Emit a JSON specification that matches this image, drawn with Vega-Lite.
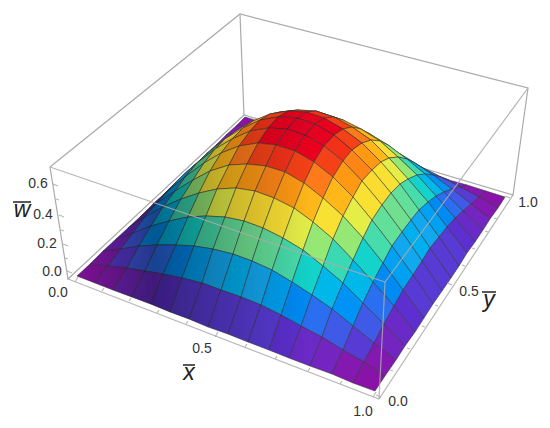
{"$schema":"https://vega.github.io/schema/vega-lite/v6.json","width":550,"height":428,"padding":0,"autosize":"none","background":"white","config":{"view":{"stroke":null}},
"projection":{"type":"identity","scale":1,"translate":[0,0]},
"datasets":{
"back":[{"g":{"type":"LineString","coordinates":[[50,167],[240,14],[528,88],[513,195],[244,115],[68,279],[50,167]]}},{"g":{"type":"LineString","coordinates":[[240,14],[244,115]]}}],
"front":[{"g":{"type":"LineString","coordinates":[[50,167],[385,282],[528,88]]}},{"g":{"type":"LineString","coordinates":[[385,282],[379,399]]}},{"g":{"type":"LineString","coordinates":[[68,279],[379,399],[513,195]]}},
{"g":{"type":"LineString","coordinates":[[75,282],[78,277]]}},{"g":{"type":"LineString","coordinates":[[102,291],[104,288]]}},{"g":{"type":"LineString","coordinates":[[129,301],[131,298]]}},{"g":{"type":"LineString","coordinates":[[157,313],[159,310]]}},{"g":{"type":"LineString","coordinates":[[186,324],[188,321]]}},{"g":{"type":"LineString","coordinates":[[215,337],[218,332]]}},{"g":{"type":"LineString","coordinates":[[245,347],[247,344]]}},{"g":{"type":"LineString","coordinates":[[275,359],[277,356]]}},{"g":{"type":"LineString","coordinates":[[308,371],[310,368]]}},{"g":{"type":"LineString","coordinates":[[340,384],[342,381]]}},{"g":{"type":"LineString","coordinates":[[373,397],[376,392]]}},
{"g":{"type":"LineString","coordinates":[[381,397],[376,395]]}},{"g":{"type":"LineString","coordinates":[[393,371],[390,370]]}},{"g":{"type":"LineString","coordinates":[[410,349],[407,348]]}},{"g":{"type":"LineString","coordinates":[[425,327],[422,326]]}},{"g":{"type":"LineString","coordinates":[[438,306],[435,305]]}},{"g":{"type":"LineString","coordinates":[[452,285],[447,283]]}},{"g":{"type":"LineString","coordinates":[[465,266],[462,265]]}},{"g":{"type":"LineString","coordinates":[[475,249],[472,248]]}},{"g":{"type":"LineString","coordinates":[[488,232],[485,231]]}},{"g":{"type":"LineString","coordinates":[[497,219],[494,218]]}},{"g":{"type":"LineString","coordinates":[[510,198],[505,196]]}},
{"g":{"type":"LineString","coordinates":[[67,271],[72,273]]}},{"g":{"type":"LineString","coordinates":[[65,258],[68,259]]}},{"g":{"type":"LineString","coordinates":[[63,244],[68,246]]}},{"g":{"type":"LineString","coordinates":[[61,230],[64,231]]}},{"g":{"type":"LineString","coordinates":[[59,215],[64,217]]}},{"g":{"type":"LineString","coordinates":[[56,199],[59,200]]}},{"g":{"type":"LineString","coordinates":[[53,184],[58,186]]}}],
"bars":[{"g":{"type":"LineString","coordinates":[[13,202],[31,202]]}},{"g":{"type":"LineString","coordinates":[[183,365],[195,365]]}},{"g":{"type":"LineString","coordinates":[[482,292],[496,292]]}}],
"shade":[{"g":{"type":"Polygon","coordinates":[[[77,276],[375,391],[505,197],[460,187],[441,177],[423,168],[407,159],[388,145],[371,140],[352,127],[334,117],[316,111],[298,110],[280,112],[263,118],[246,127],[229,138],[219,144],[196,164],[163,195],[128,228],[77,276]]]}}],
"ticks":[{"t":"0.6","x":38,"y":184},{"t":"0.4","x":43,"y":215},{"t":"0.2","x":47,"y":244},{"t":"0.0","x":52,"y":272},{"t":"0.0","x":58,"y":293},{"t":"0.5","x":202,"y":349},{"t":"1.0","x":363,"y":412},{"t":"0.0","x":398,"y":402},{"t":"0.5","x":469,"y":292},{"t":"1.0","x":528,"y":203}],
"names":[{"t":"w","x":22,"y":217},{"t":"x","x":189,"y":380},{"t":"y","x":489,"y":307}],
"cells":[
{"w":0.01,"g":{"type":"Polygon","coordinates":[[[236,126],[252,127],[261,122],[245,117],[236,126]]]}},
{"w":0.02,"g":{"type":"Polygon","coordinates":[[[252,127],[268,127],[277,127],[261,122],[252,127]]]}},
{"w":0.04,"g":{"type":"Polygon","coordinates":[[[268,127],[284,129],[293,132],[277,127],[268,127]]]}},
{"w":0.05,"g":{"type":"Polygon","coordinates":[[[284,129],[301,130],[309,137],[293,132],[284,129]]]}},
{"w":0.06,"g":{"type":"Polygon","coordinates":[[[301,130],[317,133],[326,142],[309,137],[301,130]]]}},
{"w":0.07,"g":{"type":"Polygon","coordinates":[[[317,133],[334,136],[343,147],[326,142],[317,133]]]}},
{"w":0.07,"g":{"type":"Polygon","coordinates":[[[334,136],[352,141],[360,152],[343,147],[334,136]]]}},
{"w":0.07,"g":{"type":"Polygon","coordinates":[[[352,141],[369,146],[377,158],[360,152],[352,141]]]}},
{"w":0.07,"g":{"type":"Polygon","coordinates":[[[369,146],[387,152],[395,163],[377,158],[369,146]]]}},
{"w":0.07,"g":{"type":"Polygon","coordinates":[[[387,152],[405,160],[413,169],[395,163],[387,152]]]}},
{"w":0.06,"g":{"type":"Polygon","coordinates":[[[405,160],[423,168],[431,174],[413,169],[405,160]]]}},
{"w":0.05,"g":{"type":"Polygon","coordinates":[[[423,168],[441,177],[449,180],[431,174],[423,168]]]}},
{"w":0.04,"g":{"type":"Polygon","coordinates":[[[441,177],[460,187],[467,185],[449,180],[441,177]]]}},
{"w":0.02,"g":{"type":"Polygon","coordinates":[[[460,187],[479,197],[486,191],[467,185],[460,187]]]}},
{"w":0.01,"g":{"type":"Polygon","coordinates":[[[479,197],[498,208],[505,197],[486,191],[479,197]]]}},
{"w":0.02,"g":{"type":"Polygon","coordinates":[[[226,135],[242,132],[252,127],[236,126],[226,135]]]}},
{"w":0.07,"g":{"type":"Polygon","coordinates":[[[242,132],[258,128],[268,127],[252,127],[242,132]]]}},
{"w":0.11,"g":{"type":"Polygon","coordinates":[[[258,128],[275,126],[284,129],[268,127],[258,128]]]}},
{"w":0.14,"g":{"type":"Polygon","coordinates":[[[275,126],[291,124],[301,130],[284,129],[275,126]]]}},
{"w":0.17,"g":{"type":"Polygon","coordinates":[[[291,124],[308,125],[317,133],[301,130],[291,124]]]}},
{"w":0.20,"g":{"type":"Polygon","coordinates":[[[308,125],[326,126],[334,136],[317,133],[308,125]]]}},
{"w":0.21,"g":{"type":"Polygon","coordinates":[[[326,126],[343,130],[352,141],[334,136],[326,126]]]}},
{"w":0.22,"g":{"type":"Polygon","coordinates":[[[343,130],[361,135],[369,146],[352,141],[343,130]]]}},
{"w":0.21,"g":{"type":"Polygon","coordinates":[[[361,135],[379,142],[387,152],[369,146],[361,135]]]}},
{"w":0.20,"g":{"type":"Polygon","coordinates":[[[379,142],[397,152],[405,160],[387,152],[379,142]]]}},
{"w":0.17,"g":{"type":"Polygon","coordinates":[[[397,152],[415,163],[423,168],[405,160],[397,152]]]}},
{"w":0.14,"g":{"type":"Polygon","coordinates":[[[415,163],[433,175],[441,177],[423,168],[415,163]]]}},
{"w":0.11,"g":{"type":"Polygon","coordinates":[[[433,175],[452,189],[460,187],[441,177],[433,175]]]}},
{"w":0.07,"g":{"type":"Polygon","coordinates":[[[452,189],[471,204],[479,197],[460,187],[452,189]]]}},
{"w":0.02,"g":{"type":"Polygon","coordinates":[[[471,204],[490,219],[498,208],[479,197],[471,204]]]}},
{"w":0.04,"g":{"type":"Polygon","coordinates":[[[216,145],[232,137],[242,132],[226,135],[216,145]]]}},
{"w":0.11,"g":{"type":"Polygon","coordinates":[[[232,137],[249,130],[258,128],[242,132],[232,137]]]}},
{"w":0.18,"g":{"type":"Polygon","coordinates":[[[249,130],[265,124],[275,126],[258,128],[249,130]]]}},
{"w":0.23,"g":{"type":"Polygon","coordinates":[[[265,124],[282,120],[291,124],[275,126],[265,124]]]}},
{"w":0.28,"g":{"type":"Polygon","coordinates":[[[282,120],[299,118],[308,125],[291,124],[282,120]]]}},
{"w":0.32,"g":{"type":"Polygon","coordinates":[[[299,118],[317,118],[326,126],[308,125],[299,118]]]}},
{"w":0.34,"g":{"type":"Polygon","coordinates":[[[317,118],[334,120],[343,130],[326,126],[317,118]]]}},
{"w":0.35,"g":{"type":"Polygon","coordinates":[[[334,120],[352,126],[361,135],[343,130],[334,120]]]}},
{"w":0.34,"g":{"type":"Polygon","coordinates":[[[352,126],[370,134],[379,142],[361,135],[352,126]]]}},
{"w":0.32,"g":{"type":"Polygon","coordinates":[[[370,134],[388,145],[397,152],[379,142],[370,134]]]}},
{"w":0.28,"g":{"type":"Polygon","coordinates":[[[388,145],[407,159],[415,163],[397,152],[388,145]]]}},
{"w":0.23,"g":{"type":"Polygon","coordinates":[[[407,159],[425,174],[433,175],[415,163],[407,159]]]}},
{"w":0.18,"g":{"type":"Polygon","coordinates":[[[425,174],[444,192],[452,189],[433,175],[425,174]]]}},
{"w":0.11,"g":{"type":"Polygon","coordinates":[[[444,192],[463,211],[471,204],[452,189],[444,192]]]}},
{"w":0.04,"g":{"type":"Polygon","coordinates":[[[463,211],[483,230],[490,219],[471,204],[463,211]]]}},
{"w":0.05,"g":{"type":"Polygon","coordinates":[[[206,154],[222,143],[232,137],[216,145],[206,154]]]}},
{"w":0.14,"g":{"type":"Polygon","coordinates":[[[222,143],[239,133],[249,130],[232,137],[222,143]]]}},
{"w":0.23,"g":{"type":"Polygon","coordinates":[[[239,133],[256,124],[265,124],[249,130],[239,133]]]}},
{"w":0.31,"g":{"type":"Polygon","coordinates":[[[256,124],[273,118],[282,120],[265,124],[256,124]]]}},
{"w":0.38,"g":{"type":"Polygon","coordinates":[[[273,118],[290,113],[299,118],[282,120],[273,118]]]}},
{"w":0.43,"g":{"type":"Polygon","coordinates":[[[290,113],[307,112],[317,118],[299,118],[290,113]]]}},
{"w":0.46,"g":{"type":"Polygon","coordinates":[[[307,112],[325,114],[334,120],[317,118],[307,112]]]}},
{"w":0.47,"g":{"type":"Polygon","coordinates":[[[325,114],[343,120],[352,126],[334,120],[325,114]]]}},
{"w":0.46,"g":{"type":"Polygon","coordinates":[[[343,120],[361,129],[370,134],[352,126],[343,120]]]}},
{"w":0.43,"g":{"type":"Polygon","coordinates":[[[361,129],[380,141],[388,145],[370,134],[361,129]]]}},
{"w":0.38,"g":{"type":"Polygon","coordinates":[[[380,141],[398,157],[407,159],[388,145],[380,141]]]}},
{"w":0.31,"g":{"type":"Polygon","coordinates":[[[398,157],[417,175],[425,174],[407,159],[398,157]]]}},
{"w":0.23,"g":{"type":"Polygon","coordinates":[[[417,175],[436,196],[444,192],[425,174],[417,175]]]}},
{"w":0.14,"g":{"type":"Polygon","coordinates":[[[436,196],[455,218],[463,211],[444,192],[436,196]]]}},
{"w":0.05,"g":{"type":"Polygon","coordinates":[[[455,218],[475,242],[483,230],[463,211],[455,218]]]}},
{"w":0.06,"g":{"type":"Polygon","coordinates":[[[196,164],[212,151],[222,143],[206,154],[196,164]]]}},
{"w":0.17,"g":{"type":"Polygon","coordinates":[[[212,151],[229,138],[239,133],[222,143],[212,151]]]}},
{"w":0.28,"g":{"type":"Polygon","coordinates":[[[229,138],[246,127],[256,124],[239,133],[229,138]]]}},
{"w":0.38,"g":{"type":"Polygon","coordinates":[[[246,127],[263,118],[273,118],[256,124],[246,127]]]}},
{"w":0.46,"g":{"type":"Polygon","coordinates":[[[263,118],[280,112],[290,113],[273,118],[263,118]]]}},
{"w":0.52,"g":{"type":"Polygon","coordinates":[[[280,112],[298,110],[307,112],[290,113],[280,112]]]}},
{"w":0.55,"g":{"type":"Polygon","coordinates":[[[298,110],[316,111],[325,114],[307,112],[298,110]]]}},
{"w":0.57,"g":{"type":"Polygon","coordinates":[[[316,111],[334,117],[343,120],[325,114],[316,111]]]}},
{"w":0.55,"g":{"type":"Polygon","coordinates":[[[334,117],[352,127],[361,129],[343,120],[334,117]]]}},
{"w":0.52,"g":{"type":"Polygon","coordinates":[[[352,127],[371,140],[380,141],[361,129],[352,127]]]}},
{"w":0.46,"g":{"type":"Polygon","coordinates":[[[371,140],[389,158],[398,157],[380,141],[371,140]]]}},
{"w":0.38,"g":{"type":"Polygon","coordinates":[[[389,158],[408,179],[417,175],[398,157],[389,158]]]}},
{"w":0.28,"g":{"type":"Polygon","coordinates":[[[408,179],[428,202],[436,196],[417,175],[408,179]]]}},
{"w":0.17,"g":{"type":"Polygon","coordinates":[[[428,202],[447,227],[455,218],[436,196],[428,202]]]}},
{"w":0.06,"g":{"type":"Polygon","coordinates":[[[447,227],[467,253],[475,242],[455,218],[447,227]]]}},
{"w":0.07,"g":{"type":"Polygon","coordinates":[[[185,174],[202,159],[212,151],[196,164],[185,174]]]}},
{"w":0.20,"g":{"type":"Polygon","coordinates":[[[202,159],[219,144],[229,138],[212,151],[202,159]]]}},
{"w":0.32,"g":{"type":"Polygon","coordinates":[[[219,144],[236,131],[246,127],[229,138],[219,144]]]}},
{"w":0.43,"g":{"type":"Polygon","coordinates":[[[236,131],[253,121],[263,118],[246,127],[236,131]]]}},
{"w":0.52,"g":{"type":"Polygon","coordinates":[[[253,121],[270,114],[280,112],[263,118],[253,121]]]}},
{"w":0.58,"g":{"type":"Polygon","coordinates":[[[270,114],[288,111],[298,110],[280,112],[270,114]]]}},
{"w":0.63,"g":{"type":"Polygon","coordinates":[[[288,111],[306,112],[316,111],[298,110],[288,111]]]}},
{"w":0.64,"g":{"type":"Polygon","coordinates":[[[306,112],[324,118],[334,117],[316,111],[306,112]]]}},
{"w":0.63,"g":{"type":"Polygon","coordinates":[[[324,118],[343,129],[352,127],[334,117],[324,118]]]}},
{"w":0.58,"g":{"type":"Polygon","coordinates":[[[343,129],[362,143],[371,140],[352,127],[343,129]]]}},
{"w":0.52,"g":{"type":"Polygon","coordinates":[[[362,143],[381,162],[389,158],[371,140],[362,143]]]}},
{"w":0.43,"g":{"type":"Polygon","coordinates":[[[381,162],[400,184],[408,179],[389,158],[381,162]]]}},
{"w":0.32,"g":{"type":"Polygon","coordinates":[[[400,184],[419,210],[428,202],[408,179],[400,184]]]}},
{"w":0.20,"g":{"type":"Polygon","coordinates":[[[419,210],[439,237],[447,227],[428,202],[419,210]]]}},
{"w":0.07,"g":{"type":"Polygon","coordinates":[[[439,237],[459,266],[467,253],[447,227],[439,237]]]}},
{"w":0.07,"g":{"type":"Polygon","coordinates":[[[174,184],[191,168],[202,159],[185,174],[174,184]]]}},
{"w":0.21,"g":{"type":"Polygon","coordinates":[[[191,168],[208,153],[219,144],[202,159],[191,168]]]}},
{"w":0.34,"g":{"type":"Polygon","coordinates":[[[208,153],[225,139],[236,131],[219,144],[208,153]]]}},
{"w":0.46,"g":{"type":"Polygon","coordinates":[[[225,139],[243,128],[253,121],[236,131],[225,139]]]}},
{"w":0.55,"g":{"type":"Polygon","coordinates":[[[243,128],[260,120],[270,114],[253,121],[243,128]]]}},
{"w":0.63,"g":{"type":"Polygon","coordinates":[[[260,120],[278,117],[288,111],[270,114],[260,120]]]}},
{"w":0.67,"g":{"type":"Polygon","coordinates":[[[278,117],[297,118],[306,112],[288,111],[278,117]]]}},
{"w":0.68,"g":{"type":"Polygon","coordinates":[[[297,118],[315,124],[324,118],[306,112],[297,118]]]}},
{"w":0.67,"g":{"type":"Polygon","coordinates":[[[315,124],[334,135],[343,129],[324,118],[315,124]]]}},
{"w":0.63,"g":{"type":"Polygon","coordinates":[[[334,135],[352,150],[362,143],[343,129],[334,135]]]}},
{"w":0.55,"g":{"type":"Polygon","coordinates":[[[352,150],[372,170],[381,162],[362,143],[352,150]]]}},
{"w":0.46,"g":{"type":"Polygon","coordinates":[[[372,170],[391,193],[400,184],[381,162],[372,170]]]}},
{"w":0.34,"g":{"type":"Polygon","coordinates":[[[391,193],[411,220],[419,210],[400,184],[391,193]]]}},
{"w":0.21,"g":{"type":"Polygon","coordinates":[[[411,220],[430,248],[439,237],[419,210],[411,220]]]}},
{"w":0.07,"g":{"type":"Polygon","coordinates":[[[430,248],[451,278],[459,266],[439,237],[430,248]]]}},
{"w":0.07,"g":{"type":"Polygon","coordinates":[[[163,195],[180,178],[191,168],[174,184],[163,195]]]}},
{"w":0.22,"g":{"type":"Polygon","coordinates":[[[180,178],[197,163],[208,153],[191,168],[180,178]]]}},
{"w":0.35,"g":{"type":"Polygon","coordinates":[[[197,163],[215,149],[225,139],[208,153],[197,163]]]}},
{"w":0.47,"g":{"type":"Polygon","coordinates":[[[215,149],[232,139],[243,128],[225,139],[215,149]]]}},
{"w":0.57,"g":{"type":"Polygon","coordinates":[[[232,139],[250,131],[260,120],[243,128],[232,139]]]}},
{"w":0.64,"g":{"type":"Polygon","coordinates":[[[250,131],[268,128],[278,117],[260,120],[250,131]]]}},
{"w":0.68,"g":{"type":"Polygon","coordinates":[[[268,128],[287,129],[297,118],[278,117],[268,128]]]}},
{"w":0.70,"g":{"type":"Polygon","coordinates":[[[287,129],[305,135],[315,124],[297,118],[287,129]]]}},
{"w":0.68,"g":{"type":"Polygon","coordinates":[[[305,135],[324,146],[334,135],[315,124],[305,135]]]}},
{"w":0.64,"g":{"type":"Polygon","coordinates":[[[324,146],[343,161],[352,150],[334,135],[324,146]]]}},
{"w":0.57,"g":{"type":"Polygon","coordinates":[[[343,161],[362,181],[372,170],[352,150],[343,161]]]}},
{"w":0.47,"g":{"type":"Polygon","coordinates":[[[362,181],[382,205],[391,193],[372,170],[362,181]]]}},
{"w":0.35,"g":{"type":"Polygon","coordinates":[[[382,205],[402,232],[411,220],[391,193],[382,205]]]}},
{"w":0.22,"g":{"type":"Polygon","coordinates":[[[402,232],[422,261],[430,248],[411,220],[402,232]]]}},
{"w":0.07,"g":{"type":"Polygon","coordinates":[[[422,261],[442,291],[451,278],[430,248],[422,261]]]}},
{"w":0.07,"g":{"type":"Polygon","coordinates":[[[152,205],[169,190],[180,178],[163,195],[152,205]]]}},
{"w":0.21,"g":{"type":"Polygon","coordinates":[[[169,190],[186,176],[197,163],[180,178],[169,190]]]}},
{"w":0.34,"g":{"type":"Polygon","coordinates":[[[186,176],[204,163],[215,149],[197,163],[186,176]]]}},
{"w":0.46,"g":{"type":"Polygon","coordinates":[[[204,163],[221,153],[232,139],[215,149],[204,163]]]}},
{"w":0.55,"g":{"type":"Polygon","coordinates":[[[221,153],[239,146],[250,131],[232,139],[221,153]]]}},
{"w":0.63,"g":{"type":"Polygon","coordinates":[[[239,146],[258,143],[268,128],[250,131],[239,146]]]}},
{"w":0.67,"g":{"type":"Polygon","coordinates":[[[258,143],[276,145],[287,129],[268,128],[258,143]]]}},
{"w":0.68,"g":{"type":"Polygon","coordinates":[[[276,145],[295,151],[305,135],[287,129],[276,145]]]}},
{"w":0.67,"g":{"type":"Polygon","coordinates":[[[295,151],[314,162],[324,146],[305,135],[295,151]]]}},
{"w":0.63,"g":{"type":"Polygon","coordinates":[[[314,162],[333,177],[343,161],[324,146],[314,162]]]}},
{"w":0.55,"g":{"type":"Polygon","coordinates":[[[333,177],[353,197],[362,181],[343,161],[333,177]]]}},
{"w":0.46,"g":{"type":"Polygon","coordinates":[[[353,197],[372,220],[382,205],[362,181],[353,197]]]}},
{"w":0.34,"g":{"type":"Polygon","coordinates":[[[372,220],[392,246],[402,232],[382,205],[372,220]]]}},
{"w":0.21,"g":{"type":"Polygon","coordinates":[[[392,246],[413,275],[422,261],[402,232],[392,246]]]}},
{"w":0.07,"g":{"type":"Polygon","coordinates":[[[413,275],[433,304],[442,291],[422,261],[413,275]]]}},
{"w":0.07,"g":{"type":"Polygon","coordinates":[[[140,217],[157,203],[169,190],[152,205],[140,217]]]}},
{"w":0.20,"g":{"type":"Polygon","coordinates":[[[157,203],[175,191],[186,176],[169,190],[157,203]]]}},
{"w":0.32,"g":{"type":"Polygon","coordinates":[[[175,191],[193,180],[204,163],[186,176],[175,191]]]}},
{"w":0.43,"g":{"type":"Polygon","coordinates":[[[193,180],[210,171],[221,153],[204,163],[193,180]]]}},
{"w":0.52,"g":{"type":"Polygon","coordinates":[[[210,171],[229,165],[239,146],[221,153],[210,171]]]}},
{"w":0.58,"g":{"type":"Polygon","coordinates":[[[229,165],[247,164],[258,143],[239,146],[229,165]]]}},
{"w":0.63,"g":{"type":"Polygon","coordinates":[[[247,164],[266,166],[276,145],[258,143],[247,164]]]}},
{"w":0.64,"g":{"type":"Polygon","coordinates":[[[266,166],[285,172],[295,151],[276,145],[266,166]]]}},
{"w":0.63,"g":{"type":"Polygon","coordinates":[[[285,172],[304,183],[314,162],[295,151],[285,172]]]}},
{"w":0.58,"g":{"type":"Polygon","coordinates":[[[304,183],[323,198],[333,177],[314,162],[304,183]]]}},
{"w":0.52,"g":{"type":"Polygon","coordinates":[[[323,198],[343,216],[353,197],[333,177],[323,198]]]}},
{"w":0.43,"g":{"type":"Polygon","coordinates":[[[343,216],[363,238],[372,220],[353,197],[343,216]]]}},
{"w":0.32,"g":{"type":"Polygon","coordinates":[[[363,238],[383,263],[392,246],[372,220],[363,238]]]}},
{"w":0.20,"g":{"type":"Polygon","coordinates":[[[383,263],[403,290],[413,275],[392,246],[383,263]]]}},
{"w":0.07,"g":{"type":"Polygon","coordinates":[[[403,290],[424,318],[433,304],[413,275],[403,290]]]}},
{"w":0.06,"g":{"type":"Polygon","coordinates":[[[128,228],[145,217],[157,203],[140,217],[128,228]]]}},
{"w":0.17,"g":{"type":"Polygon","coordinates":[[[145,217],[163,207],[175,191],[157,203],[145,217]]]}},
{"w":0.28,"g":{"type":"Polygon","coordinates":[[[163,207],[181,199],[193,180],[175,191],[163,207]]]}},
{"w":0.38,"g":{"type":"Polygon","coordinates":[[[181,199],[199,193],[210,171],[193,180],[181,199]]]}},
{"w":0.46,"g":{"type":"Polygon","coordinates":[[[199,193],[217,189],[229,165],[210,171],[199,193]]]}},
{"w":0.52,"g":{"type":"Polygon","coordinates":[[[217,189],[236,188],[247,164],[229,165],[217,189]]]}},
{"w":0.55,"g":{"type":"Polygon","coordinates":[[[236,188],[255,191],[266,166],[247,164],[236,188]]]}},
{"w":0.57,"g":{"type":"Polygon","coordinates":[[[255,191],[274,198],[285,172],[266,166],[255,191]]]}},
{"w":0.55,"g":{"type":"Polygon","coordinates":[[[274,198],[294,208],[304,183],[285,172],[274,198]]]}},
{"w":0.52,"g":{"type":"Polygon","coordinates":[[[294,208],[313,222],[323,198],[304,183],[294,208]]]}},
{"w":0.46,"g":{"type":"Polygon","coordinates":[[[313,222],[333,239],[343,216],[323,198],[313,222]]]}},
{"w":0.38,"g":{"type":"Polygon","coordinates":[[[333,239],[353,260],[363,238],[343,216],[333,239]]]}},
{"w":0.28,"g":{"type":"Polygon","coordinates":[[[353,260],[373,282],[383,263],[363,238],[353,260]]]}},
{"w":0.17,"g":{"type":"Polygon","coordinates":[[[373,282],[394,306],[403,290],[383,263],[373,282]]]}},
{"w":0.06,"g":{"type":"Polygon","coordinates":[[[394,306],[415,332],[424,318],[403,290],[394,306]]]}},
{"w":0.05,"g":{"type":"Polygon","coordinates":[[[116,239],[133,233],[145,217],[128,228],[116,239]]]}},
{"w":0.14,"g":{"type":"Polygon","coordinates":[[[133,233],[151,226],[163,207],[145,217],[133,233]]]}},
{"w":0.23,"g":{"type":"Polygon","coordinates":[[[151,226],[169,221],[181,199],[163,207],[151,226]]]}},
{"w":0.31,"g":{"type":"Polygon","coordinates":[[[169,221],[188,217],[199,193],[181,199],[169,221]]]}},
{"w":0.38,"g":{"type":"Polygon","coordinates":[[[188,217],[206,216],[217,189],[199,193],[188,217]]]}},
{"w":0.43,"g":{"type":"Polygon","coordinates":[[[206,216],[225,217],[236,188],[217,189],[206,216]]]}},
{"w":0.46,"g":{"type":"Polygon","coordinates":[[[225,217],[244,221],[255,191],[236,188],[225,217]]]}},
{"w":0.47,"g":{"type":"Polygon","coordinates":[[[244,221],[263,228],[274,198],[255,191],[244,221]]]}},
{"w":0.46,"g":{"type":"Polygon","coordinates":[[[263,228],[283,238],[294,208],[274,198],[263,228]]]}},
{"w":0.43,"g":{"type":"Polygon","coordinates":[[[283,238],[303,250],[313,222],[294,208],[283,238]]]}},
{"w":0.38,"g":{"type":"Polygon","coordinates":[[[303,250],[323,266],[333,239],[313,222],[303,250]]]}},
{"w":0.31,"g":{"type":"Polygon","coordinates":[[[323,266],[343,283],[353,260],[333,239],[323,266]]]}},
{"w":0.23,"g":{"type":"Polygon","coordinates":[[[343,283],[363,303],[373,282],[353,260],[343,283]]]}},
{"w":0.14,"g":{"type":"Polygon","coordinates":[[[363,303],[384,324],[394,306],[373,282],[363,303]]]}},
{"w":0.05,"g":{"type":"Polygon","coordinates":[[[384,324],[405,346],[415,332],[394,306],[384,324]]]}},
{"w":0.04,"g":{"type":"Polygon","coordinates":[[[103,251],[121,249],[133,233],[116,239],[103,251]]]}},
{"w":0.11,"g":{"type":"Polygon","coordinates":[[[121,249],[139,246],[151,226],[133,233],[121,249]]]}},
{"w":0.18,"g":{"type":"Polygon","coordinates":[[[139,246],[157,245],[169,221],[151,226],[139,246]]]}},
{"w":0.23,"g":{"type":"Polygon","coordinates":[[[157,245],[176,245],[188,217],[169,221],[157,245]]]}},
{"w":0.28,"g":{"type":"Polygon","coordinates":[[[176,245],[194,246],[206,216],[188,217],[176,245]]]}},
{"w":0.32,"g":{"type":"Polygon","coordinates":[[[194,246],[213,249],[225,217],[206,216],[194,246]]]}},
{"w":0.34,"g":{"type":"Polygon","coordinates":[[[213,249],[233,254],[244,221],[225,217],[213,249]]]}},
{"w":0.35,"g":{"type":"Polygon","coordinates":[[[233,254],[252,261],[263,228],[244,221],[233,254]]]}},
{"w":0.34,"g":{"type":"Polygon","coordinates":[[[252,261],[272,270],[283,238],[263,228],[252,261]]]}},
{"w":0.32,"g":{"type":"Polygon","coordinates":[[[272,270],[292,282],[303,250],[283,238],[272,270]]]}},
{"w":0.28,"g":{"type":"Polygon","coordinates":[[[292,282],[312,295],[323,266],[303,250],[292,282]]]}},
{"w":0.23,"g":{"type":"Polygon","coordinates":[[[312,295],[332,309],[343,283],[323,266],[312,295]]]}},
{"w":0.18,"g":{"type":"Polygon","coordinates":[[[332,309],[353,326],[363,303],[343,283],[332,309]]]}},
{"w":0.11,"g":{"type":"Polygon","coordinates":[[[353,326],[374,343],[384,324],[363,303],[353,326]]]}},
{"w":0.04,"g":{"type":"Polygon","coordinates":[[[374,343],[396,360],[405,346],[384,324],[374,343]]]}},
{"w":0.02,"g":{"type":"Polygon","coordinates":[[[90,264],[108,266],[121,249],[103,251],[90,264]]]}},
{"w":0.07,"g":{"type":"Polygon","coordinates":[[[108,266],[127,268],[139,246],[121,249],[108,266]]]}},
{"w":0.11,"g":{"type":"Polygon","coordinates":[[[127,268],[145,271],[157,245],[139,246],[127,268]]]}},
{"w":0.14,"g":{"type":"Polygon","coordinates":[[[145,271],[163,274],[176,245],[157,245],[145,271]]]}},
{"w":0.17,"g":{"type":"Polygon","coordinates":[[[163,274],[182,278],[194,246],[176,245],[163,274]]]}},
{"w":0.20,"g":{"type":"Polygon","coordinates":[[[182,278],[202,283],[213,249],[194,246],[182,278]]]}},
{"w":0.21,"g":{"type":"Polygon","coordinates":[[[202,283],[221,290],[233,254],[213,249],[202,283]]]}},
{"w":0.22,"g":{"type":"Polygon","coordinates":[[[221,290],[241,297],[252,261],[233,254],[221,290]]]}},
{"w":0.21,"g":{"type":"Polygon","coordinates":[[[241,297],[261,305],[272,270],[252,261],[241,297]]]}},
{"w":0.20,"g":{"type":"Polygon","coordinates":[[[261,305],[281,315],[292,282],[272,270],[261,305]]]}},
{"w":0.17,"g":{"type":"Polygon","coordinates":[[[281,315],[301,326],[312,295],[292,282],[281,315]]]}},
{"w":0.14,"g":{"type":"Polygon","coordinates":[[[301,326],[322,337],[332,309],[312,295],[301,326]]]}},
{"w":0.11,"g":{"type":"Polygon","coordinates":[[[322,337],[343,350],[353,326],[332,309],[322,337]]]}},
{"w":0.07,"g":{"type":"Polygon","coordinates":[[[343,350],[364,362],[374,343],[353,326],[343,350]]]}},
{"w":0.02,"g":{"type":"Polygon","coordinates":[[[364,362],[385,376],[396,360],[374,343],[364,362]]]}},
{"w":0.01,"g":{"type":"Polygon","coordinates":[[[77,276],[95,283],[108,266],[90,264],[77,276]]]}},
{"w":0.02,"g":{"type":"Polygon","coordinates":[[[95,283],[113,290],[127,268],[108,266],[95,283]]]}},
{"w":0.04,"g":{"type":"Polygon","coordinates":[[[113,290],[132,297],[145,271],[127,268],[113,290]]]}},
{"w":0.05,"g":{"type":"Polygon","coordinates":[[[132,297],[151,304],[163,274],[145,271],[132,297]]]}},
{"w":0.06,"g":{"type":"Polygon","coordinates":[[[151,304],[170,312],[182,278],[163,274],[151,304]]]}},
{"w":0.07,"g":{"type":"Polygon","coordinates":[[[170,312],[189,319],[202,283],[182,278],[170,312]]]}},
{"w":0.07,"g":{"type":"Polygon","coordinates":[[[189,319],[208,327],[221,290],[202,283],[189,319]]]}},
{"w":0.07,"g":{"type":"Polygon","coordinates":[[[208,327],[228,334],[241,297],[221,290],[208,327]]]}},
{"w":0.07,"g":{"type":"Polygon","coordinates":[[[228,334],[248,342],[261,305],[241,297],[228,334]]]}},
{"w":0.07,"g":{"type":"Polygon","coordinates":[[[248,342],[269,350],[281,315],[261,305],[248,342]]]}},
{"w":0.06,"g":{"type":"Polygon","coordinates":[[[269,350],[289,358],[301,326],[281,315],[269,350]]]}},
{"w":0.05,"g":{"type":"Polygon","coordinates":[[[289,358],[310,366],[322,337],[301,326],[289,358]]]}},
{"w":0.04,"g":{"type":"Polygon","coordinates":[[[310,366],[332,374],[343,350],[322,337],[310,366]]]}},
{"w":0.02,"g":{"type":"Polygon","coordinates":[[[332,374],[353,383],[364,362],[343,350],[332,374]]]}},
{"w":0.01,"g":{"type":"Polygon","coordinates":[[[353,383],[375,391],[385,376],[364,362],[353,383]]]}}
]},
"layer":[
{"data":{"name":"back"},"mark":{"type":"geoshape","filled":false,"stroke":"#aaaaaa","strokeWidth":1.2},"encoding":{"shape":{"field":"g","type":"geojson"}}},
{"data":{"name":"cells"},"mark":{"type":"geoshape","stroke":"#2e2e2e","strokeWidth":0.9,"strokeOpacity":0.6},"encoding":{"shape":{"field":"g","type":"geojson"},"color":{"field":"w","type":"quantitative","legend":null,"scale":{"domain":[0,0.06,0.14,0.21,0.27,0.35,0.44,0.51,0.58,0.65],"range":["#8e0ea0","#5d2fd0","#2a6ff0","#12a8f0","#10d0d0","#70e090","#f5ee40","#ffc020","#ff7a1a","#f01a1a"]}}}},
{"data":{"name":"shade"},"mark":{"type":"geoshape","strokeWidth":0,"fill":{"gradient":"linear","x1":0,"y1":0,"x2":1,"y2":0,"stops":[{"offset":0,"color":"rgba(0,0,0,0.1)"},{"offset":0.18,"color":"rgba(0,0,0,0.4)"},{"offset":0.35,"color":"rgba(0,0,0,0.2)"},{"offset":0.55,"color":"rgba(0,0,0,0)"},{"offset":1,"color":"rgba(0,0,0,0)"}]}},"encoding":{"shape":{"field":"g","type":"geojson"}}},
{"data":{"name":"front"},"mark":{"type":"geoshape","filled":false,"stroke":"#aaaaaa","strokeWidth":1.2,"strokeOpacity":0.85},"encoding":{"shape":{"field":"g","type":"geojson"}}},
{"data":{"name":"bars"},"mark":{"type":"geoshape","filled":false,"stroke":"#222222","strokeWidth":1.5},"encoding":{"shape":{"field":"g","type":"geojson"}}},
{"data":{"name":"ticks"},"mark":{"type":"text","font":"Liberation Sans","fontSize":14,"fill":"#333333","align":"center","baseline":"middle"},"encoding":{"longitude":{"field":"x","type":"quantitative"},"latitude":{"field":"y","type":"quantitative"},"text":{"field":"t"}}},
{"data":{"name":"names"},"mark":{"type":"text","font":"Liberation Sans","fontSize":23,"fontStyle":"italic","fill":"#222222","align":"center","baseline":"alphabetic"},"encoding":{"longitude":{"field":"x","type":"quantitative"},"latitude":{"field":"y","type":"quantitative"},"text":{"field":"t"}}}
]}
